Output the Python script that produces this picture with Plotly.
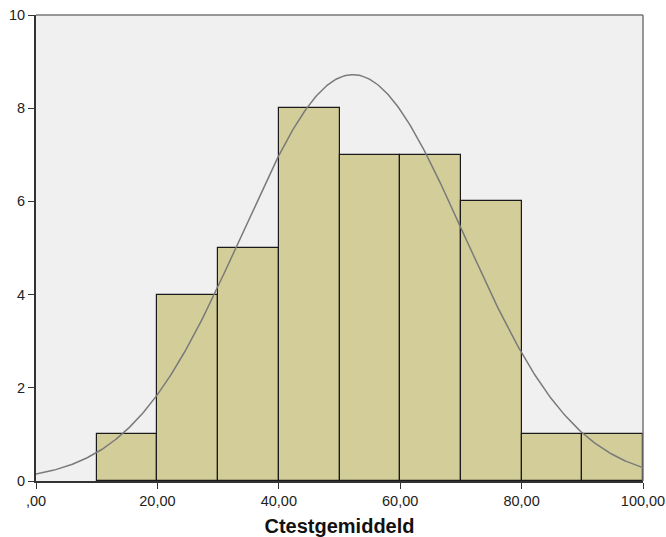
import numpy as np
import plotly.graph_objects as go

# Histogram of Ctestgemiddeld (bin width 10)
bin_starts = [10, 20, 30, 40, 50, 60, 70, 80, 90]
counts = [1, 4, 5, 8, 7, 7, 6, 1, 1]
bin_width = 10

# Fitted normal curve parameters
n_total = 40
mean_val = 52.2
sd_val = 18.3

x_ticks = [0, 20, 40, 60, 80, 100]
x_tick_text = [",00", "20,00", "40,00", "60,00", "80,00", "100,00"]
y_ticks = [0, 2, 4, 6, 8, 10]

xs = np.linspace(0, 100, 401)
curve = n_total * bin_width / (sd_val * np.sqrt(2 * np.pi)) * np.exp(-0.5 * ((xs - mean_val) / sd_val) ** 2)

fig = go.Figure()
fig.add_trace(go.Bar(
    x=[b + bin_width / 2 for b in bin_starts],
    y=counts,
    width=bin_width,
    marker=dict(color="#D3CE99", line=dict(color="#1a1a1a", width=1.2)),
    hoverinfo="skip",
))
fig.add_trace(go.Scatter(
    x=xs, y=curve, mode="lines",
    line=dict(color="#7a7a7a", width=1.5),
    hoverinfo="skip",
))

fig.update_layout(
    width=666, height=537,
    margin=dict(l=36, r=23, t=15, b=56),
    paper_bgcolor="white",
    plot_bgcolor="#F0F0F0",
    showlegend=False,
    bargap=0,
    font=dict(family="Liberation Sans, Arial, sans-serif", size=14.5, color="#222"),
    xaxis=dict(
        range=[0, 100], tickvals=x_ticks, ticktext=x_tick_text,
        ticks="outside", ticklen=6, tickcolor="#333", tickwidth=1,
        showgrid=False, zeroline=False, automargin=False,
        showline=True, linecolor="#333", linewidth=2, mirror=False,
        title=dict(text="<b>Ctestgemiddeld</b>", font=dict(size=20, color="#111")),
    ),
    yaxis=dict(
        range=[0, 10], tickvals=y_ticks, automargin=False,
        ticks="outside", ticklen=6, tickcolor="#333", tickwidth=1,
        showgrid=False, zeroline=False,
        showline=True, linecolor="#333", linewidth=2,
    ),
)
# thin grey frame on top and right sides of the plot area
fig.add_shape(type="line", xref="paper", yref="paper", x0=0, x1=1, y0=1, y1=1,
              line=dict(color="#777", width=1.5))
fig.add_shape(type="line", xref="paper", yref="paper", x0=1, x1=1, y0=0, y1=1,
              line=dict(color="#777", width=1.5))

fig.write_html("out.html")
